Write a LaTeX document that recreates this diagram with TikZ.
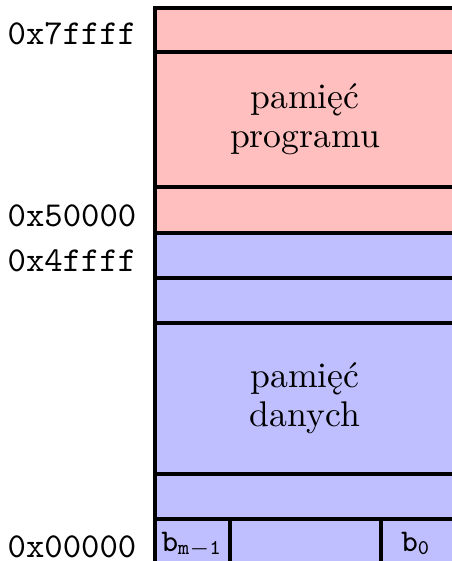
\documentclass[tikz,border=0pt]{standalone}
\usepackage{fontspec}
\begin{document}
\begin{tikzpicture}[x=0.285714pt,y=-0.285714pt,
  rule/.style={draw=black, line width=1pt},
  addr/.style={anchor=base east, inner sep=0pt, font=\ttfamily},
  big/.style={align=center, inner sep=0pt, font={\fontsize{10.2}{11.14}\selectfont}},
  bit/.style={anchor=base, inner sep=0pt, font=\small}]
\useasboundingbox (0,0) rectangle (452,561);
\clip (0,0) rectangle (452,561);
% program memory
\fill[red!25] (155,8) rectangle (455,233);
% data memory
\fill[blue!25] (155,233) rectangle (455,564);
% horizontal row lines
\foreach \y in {52,187,233,278,323,474,519}
  \draw[rule] (155,\y) -- (455,\y);
% outline
\draw[rule] (155,8) rectangle (455,564);
% bit cells
\draw[rule] (230,519) -- (230,564);
\draw[rule] (381,519) -- (381,564);
% addresses
\node[addr] (a7ffff) at (137,45) {0x7ffff};
\node[addr] (a50000) at (137,227) {0x50000};
\node[addr] (a4ffff) at (137,271) {0x4ffff};
\node[addr] (a00000) at (137,557) {0x00000};
% region labels
\node[big] (prog) at (305,119.5) {pamięć\\programu};
\node[big] (data) at (305,398.5) {pamięć\\danych};
% bits
\node[bit] (bm) at (192,551) {$\mathtt{b_{m-1}}$};
\node[bit] (b0) at (416,551) {$\mathtt{b_{0}}$};
\end{tikzpicture}
\end{document}
